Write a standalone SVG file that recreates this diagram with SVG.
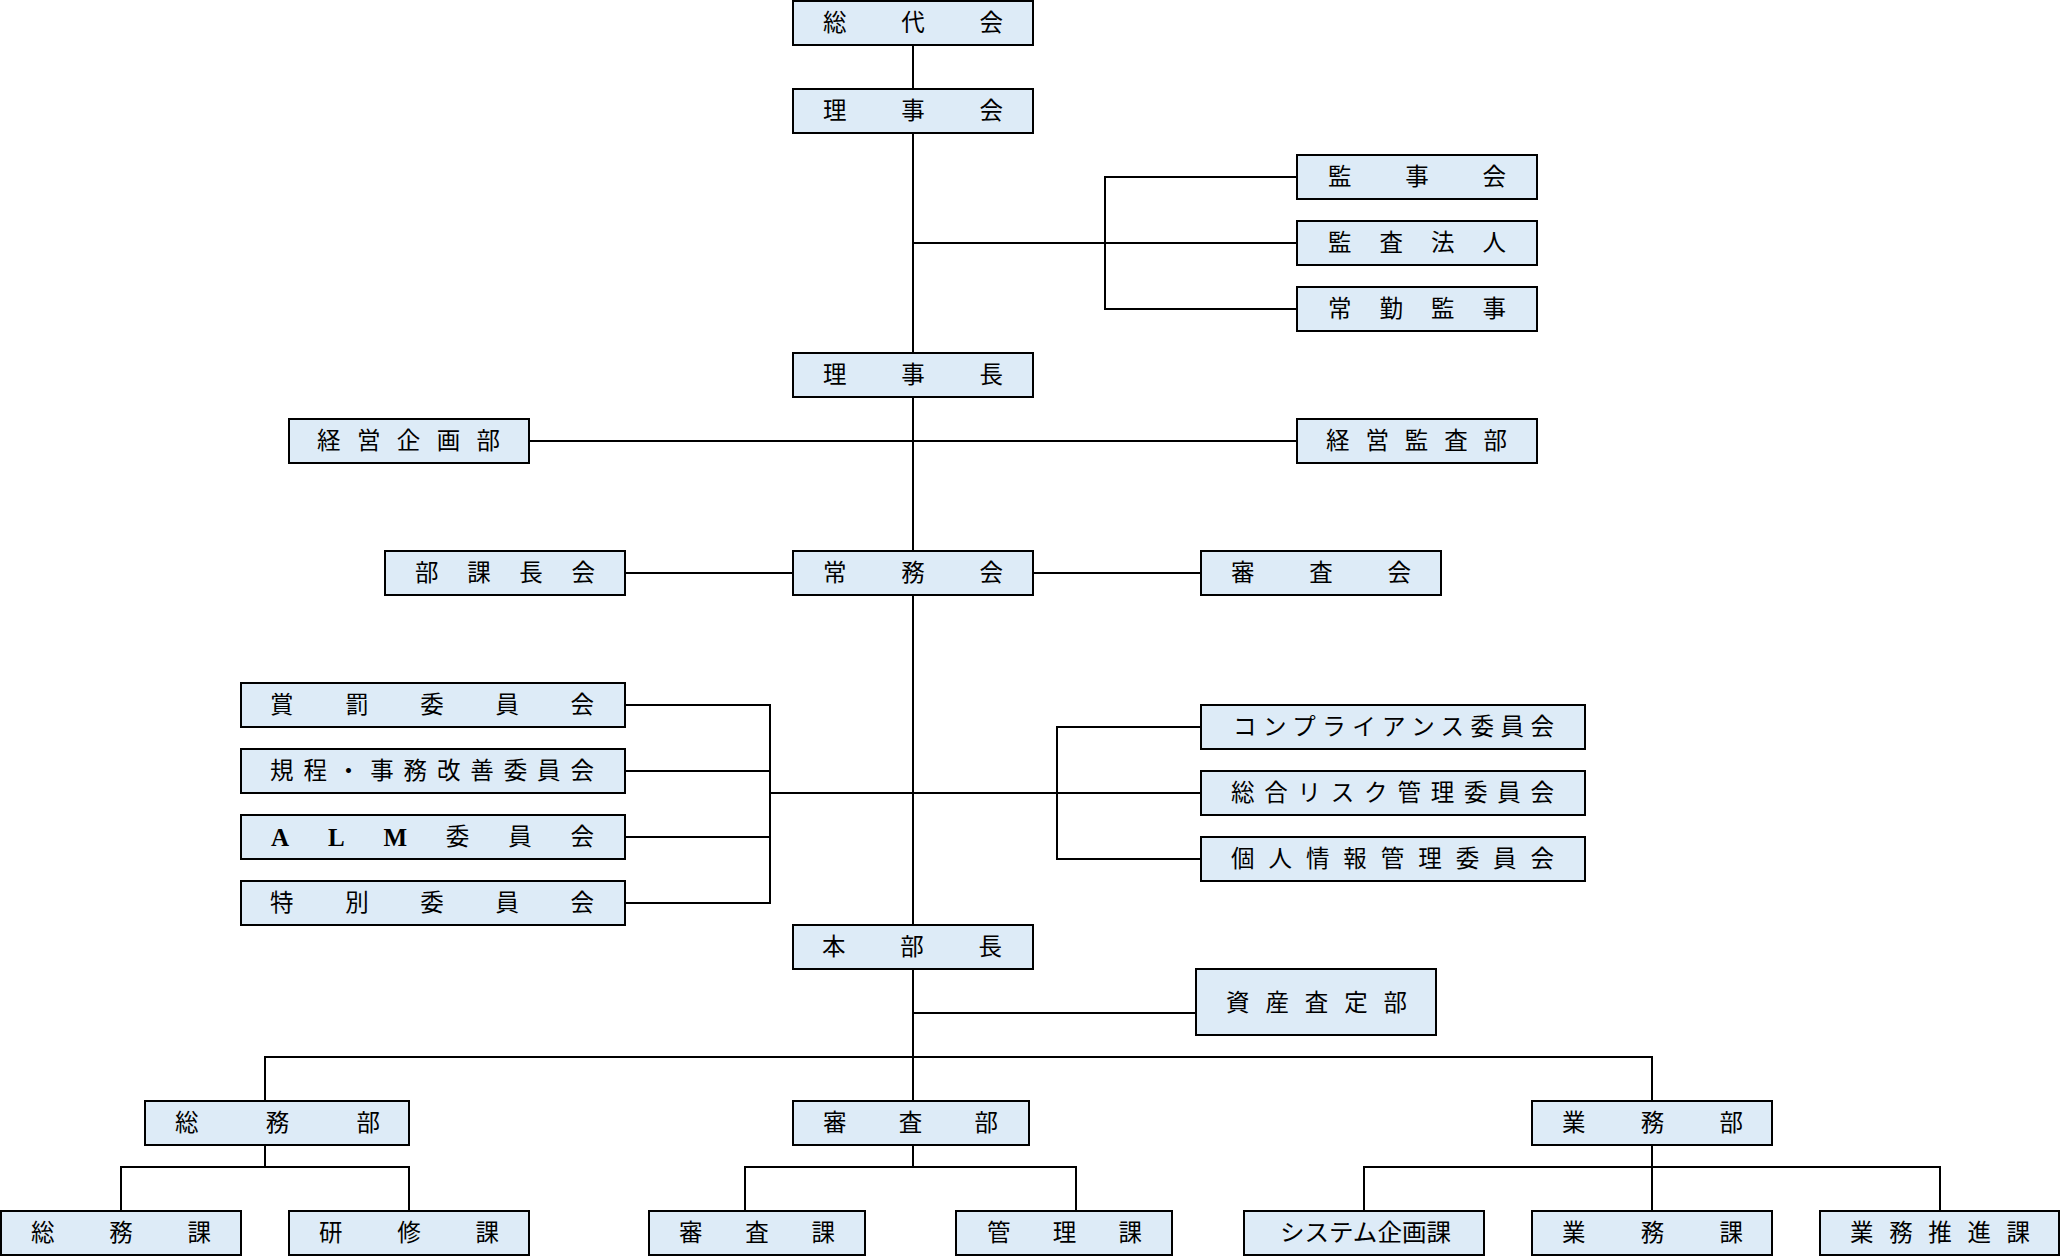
<svg xmlns="http://www.w3.org/2000/svg" width="2061" height="1256" viewBox="0 0 2061 1256">
<style>
.bg{fill:#ffffff}
.box{fill:#DDEBF7;stroke:#000;stroke-width:2}
.ln{fill:none;stroke:#000;stroke-width:2}
.t{font-family:"Liberation Serif","Noto Sans CJK JP",serif;font-size:23.5px;fill:#000;dominant-baseline:central}
.lat{font-size:25px;font-weight:bold}
</style>
<rect class="bg" x="0" y="0" width="2061" height="1256"/>
<g id="connectors">
<path class="ln" d="M913,23 V1167"/>
<path class="ln" d="M913,243 H1297 M1297,177 H1105 V309 H1297"/>
<path class="ln" d="M529,441 H1297"/>
<path class="ln" d="M625,573 H1201"/>
<path class="ln" d="M625,705 H770 V903 H625 M625,771 H770 M625,837 H770 M770,793 H913"/>
<path class="ln" d="M913,793 H1201 M1201,727 H1057 V859 H1201"/>
<path class="ln" d="M913,1013 H1196"/>
<path class="ln" d="M265,1101 V1057 H1652 V1101"/>
<path class="ln" d="M265,1145 V1167 M121,1211 V1167 H409 V1211"/>
<path class="ln" d="M745,1211 V1167 H1076 V1211"/>
<path class="ln" d="M1652,1145 V1211 M1364,1211 V1167 H1940 V1211"/>
</g>
<g id="n1"><rect class="box" x="793" y="1" width="240" height="44"/><text class="t" x="823" y="23" textLength="180" lengthAdjust="spacing">総代会</text></g>
<g id="n2"><rect class="box" x="793" y="89" width="240" height="44"/><text class="t" x="823" y="111" textLength="180" lengthAdjust="spacing">理事会</text></g>
<g id="n3"><rect class="box" x="1297" y="155" width="240" height="44"/><text class="t" x="1328" y="177" textLength="178" lengthAdjust="spacing">監事会</text></g>
<g id="n4"><rect class="box" x="1297" y="221" width="240" height="44"/><text class="t" x="1328" y="243" textLength="178" lengthAdjust="spacing">監査法人</text></g>
<g id="n5"><rect class="box" x="1297" y="287" width="240" height="44"/><text class="t" x="1328" y="309" textLength="178" lengthAdjust="spacing">常勤監事</text></g>
<g id="n6"><rect class="box" x="793" y="353" width="240" height="44"/><text class="t" x="823" y="375" textLength="180" lengthAdjust="spacing">理事長</text></g>
<g id="n7"><rect class="box" x="289" y="419" width="240" height="44"/><text class="t" x="317" y="441" textLength="183" lengthAdjust="spacing">経営企画部</text></g>
<g id="n8"><rect class="box" x="1297" y="419" width="240" height="44"/><text class="t" x="1326" y="441" textLength="181" lengthAdjust="spacing">経営監査部</text></g>
<g id="n9"><rect class="box" x="385" y="551" width="240" height="44"/><text class="t" x="415" y="573" textLength="180" lengthAdjust="spacing">部課長会</text></g>
<g id="n10"><rect class="box" x="793" y="551" width="240" height="44"/><text class="t" x="823" y="573" textLength="180" lengthAdjust="spacing">常務会</text></g>
<g id="n11"><rect class="box" x="1201" y="551" width="240" height="44"/><text class="t" x="1231" y="573" textLength="180" lengthAdjust="spacing">審査会</text></g>
<g id="n12"><rect class="box" x="241" y="683" width="384" height="44"/><text class="t" x="270" y="705" textLength="324" lengthAdjust="spacing">賞罰委員会</text></g>
<g id="n13"><rect class="box" x="241" y="749" width="384" height="44"/><text class="t" x="270" y="771" textLength="324" lengthAdjust="spacing">規程・事務改善委員会</text></g>
<g id="n14"><rect class="box" x="241" y="815" width="384" height="44"/><text class="t" x="271" y="837" textLength="323" lengthAdjust="spacing"><tspan class="lat">ALM</tspan>委員会</text></g>
<g id="n15"><rect class="box" x="241" y="881" width="384" height="44"/><text class="t" x="270" y="903" textLength="324" lengthAdjust="spacing">特別委員会</text></g>
<g id="n16"><rect class="box" x="1201" y="705" width="384" height="44"/><text class="t" x="1233" y="727" textLength="321" lengthAdjust="spacing">コンプライアンス委員会</text></g>
<g id="n17"><rect class="box" x="1201" y="771" width="384" height="44"/><text class="t" x="1231" y="793" textLength="323" lengthAdjust="spacing">総合リスク管理委員会</text></g>
<g id="n18"><rect class="box" x="1201" y="837" width="384" height="44"/><text class="t" x="1231" y="859" textLength="323" lengthAdjust="spacing">個人情報管理委員会</text></g>
<g id="n19"><rect class="box" x="793" y="925" width="240" height="44"/><text class="t" x="822" y="947" textLength="180" lengthAdjust="spacing">本部長</text></g>
<g id="n20"><rect class="box" x="1196" y="969" width="240" height="66"/><text class="t" x="1226" y="1003" textLength="181" lengthAdjust="spacing">資産査定部</text></g>
<g id="n21"><rect class="box" x="145" y="1101" width="264" height="44"/><text class="t" x="175" y="1123" textLength="205" lengthAdjust="spacing">総務部</text></g>
<g id="n22"><rect class="box" x="793" y="1101" width="236" height="44"/><text class="t" x="823" y="1123" textLength="175" lengthAdjust="spacing">審査部</text></g>
<g id="n23"><rect class="box" x="1532" y="1101" width="240" height="44"/><text class="t" x="1562" y="1123" textLength="181" lengthAdjust="spacing">業務部</text></g>
<g id="n24"><rect class="box" x="1" y="1211" width="240" height="44"/><text class="t" x="31" y="1233" textLength="180" lengthAdjust="spacing">総務課</text></g>
<g id="n25"><rect class="box" x="289" y="1211" width="240" height="44"/><text class="t" x="319" y="1233" textLength="180" lengthAdjust="spacing">研修課</text></g>
<g id="n26"><rect class="box" x="649" y="1211" width="216" height="44"/><text class="t" x="679" y="1233" textLength="156" lengthAdjust="spacing">審査課</text></g>
<g id="n27"><rect class="box" x="956" y="1211" width="216" height="44"/><text class="t" x="987" y="1233" textLength="155" lengthAdjust="spacing">管理課</text></g>
<g id="n28"><rect class="box" x="1244" y="1211" width="240" height="44"/><text class="t" x="1280" y="1233" textLength="171" lengthAdjust="spacingAndGlyphs">システム企画課</text></g>
<g id="n29"><rect class="box" x="1532" y="1211" width="240" height="44"/><text class="t" x="1562" y="1233" textLength="181" lengthAdjust="spacing">業務課</text></g>
<g id="n30"><rect class="box" x="1820" y="1211" width="239" height="44"/><text class="t" x="1850" y="1233" textLength="180" lengthAdjust="spacing">業務推進課</text></g>
</svg>
